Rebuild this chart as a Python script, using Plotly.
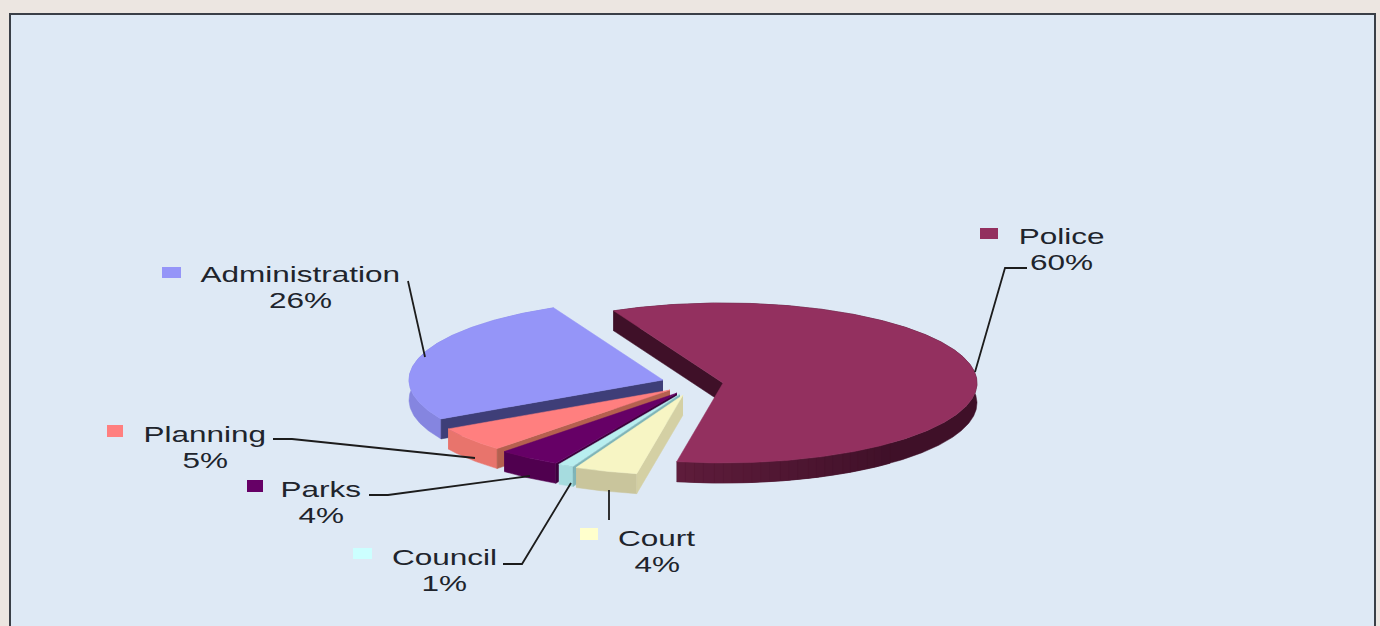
import numpy as np
import plotly.graph_objects as go

# ---- data ----
categories = ["Administration", "Planning", "Parks", "Council", "Court", "Police"]
percent_values = [26, 5, 4, 1, 4, 60]

# ---- styles ----
top_colors = ["#9595F8", "#FF7F7F", "#660066", "#B8EEEF", "#F7F5C4", "#93305F"]
wall_colors = ["#8585E0", "#E8746C", "#50004F", "#A6DCDF", "#C9C59C", "#3F1028"]
face_colors = ["#3E3E78", "#B5604F", "#3D003D", "#7FB5B8", "#D4D0A4", "#3F1028"]
PAGE = "#ECE6E1"
PANEL = "#DEE9F5"
FRAME = "#3A3F47"
INK = "#20242C"
FONT = "Liberation Sans"
FONT_SIZE = 22.5
TEXT_STRETCH = 1.4  # the reference's lettering is horizontally stretched

# ---- layout (pixel-space scale of the figure) ----
W, H = 1380, 626
RX, RY, DEPTH = 254, 80, 20
START_ANGLE = 115.5
centers = {
    "Administration": (663, 380),
    "Planning": (670, 390),
    "Parks": (677, 393),
    "Council": (680, 394),
    "Court": (683, 395),
    "Police": (723, 383),
}
label_pos = {
    "Administration": (300, 274, 300),
    "Planning": (205, 434, 460),
    "Parks": (321, 489, 515),
    "Council": (444, 557, 583),
    "Court": (657, 538, 564),
    "Police": (1061, 236, 262),
}
key_boxes = {
    "Administration": (162, 267, 181, 278),
    "Planning": (107, 425, 123, 437),
    "Parks": (247, 480, 263, 492),
    "Council": (353, 548, 372, 559),
    "Court": (580, 528, 598, 540),
    "Police": (980, 228, 998, 239),
}
leaders = {
    "Administration": "M408,281 L425,357",
    "Planning": "M273,439 L292,439 L475,458",
    "Parks": "M369,495 L388,495 L530,476",
    "Council": "M503,564 L522,564 L571,483",
    "Court": "M609,490 L609,520",
    "Police": "M1027,268 L1005,268 L975,372",
}


def poly(fig, xs, ys, color, name):
    fig.add_trace(go.Scatter(
        x=list(xs), y=list(ys), mode="lines", fill="toself", fillcolor=color,
        line=dict(width=0.5, color=color), hoverinfo="skip", showlegend=False, name=name,
    ))


def blend(a, b, t):
    ca = [int(a[i:i + 2], 16) for i in (1, 3, 5)]
    cb = [int(b[i:i + 2], 16) for i in (1, 3, 5)]
    return "#" + "".join(f"{round(p + (q - p) * t):02X}" for p, q in zip(ca, cb))


fig = go.Figure()

total = sum(percent_values)
angle = START_ANGLE
for name, value, top, wall, face in zip(categories, percent_values, top_colors, wall_colors, face_colors):
    sweep = 360 * value / total
    a0, a1 = angle, angle + sweep
    angle = a1
    cx, cy = centers[name]
    theta = np.radians(np.linspace(a0, a1, max(8, int(sweep * 2))))
    ax = cx + RX * np.cos(theta)
    ay = cy - RY * np.sin(theta)

    # outer wall
    poly(fig, np.r_[ax, ax[::-1]], np.r_[ay, ay[::-1] + DEPTH], wall, name + " wall")
    if name == "Police":
        # lighter front-left end of the wall; each strip is overpainted by the next
        shade_steps = 24
        n_shade = int(len(theta) * 0.24)
        idx = np.linspace(0, n_shade, shade_steps + 1).astype(int)
        for k in range(shade_steps - 1, -1, -1):
            i, j = idx[k], idx[k + 1]
            col = blend("#5E1C3B", wall, k / shade_steps)
            poly(fig, np.r_[ax[i:j + 1], ax[i:j + 1][::-1]],
                 np.r_[ay[i:j + 1], ay[i:j + 1][::-1] + DEPTH], col, name + " wall shade")

    # cut face on the far radial edge of the slice
    poly(fig,
         [cx, ax[-1], ax[-1], cx],
         [cy, ay[-1], ay[-1] + DEPTH, cy + DEPTH], face, name + " face")

    # top surface
    poly(fig, np.r_[cx, ax, cx], np.r_[cy, ay, cy], top, name)

shapes = [
    dict(type="rect", xref="x", yref="y", x0=10, y0=14, x1=1375, y1=H + 20,
         fillcolor=PANEL, line=dict(color=FRAME, width=2), layer="below"),
]
annotations = []
for name, value, top in zip(categories, percent_values, top_colors):
    x0, y0, x1, y1 = key_boxes[name]
    key_color = "#CCFFFF" if name == "Council" else ("#FFFFCC" if name == "Court" else top)
    shapes.append(dict(type="rect", xref="x", yref="y", x0=x0, y0=y0, x1=x1, y1=y1,
                       fillcolor=key_color, line=dict(width=0)))
    shapes.append(dict(type="path", xref="x", yref="y", path=leaders[name],
                       line=dict(color="#1C1C1C", width=1.8)))
    lx, ly0, ly1 = label_pos[name]
    for txt, ly in ((name, ly0), (f"{value}%", ly1)):
        annotations.append(dict(x=lx, y=ly, xref="x", yref="y", text=txt, showarrow=False,
                                xanchor="center", yanchor="middle",
                                font=dict(family=FONT, size=FONT_SIZE, color=INK)))

fig.update_layout(
    width=W, height=H,
    margin=dict(l=0, r=0, t=0, b=0),
    paper_bgcolor=PAGE, plot_bgcolor=PAGE,
    showlegend=False,
    xaxis=dict(range=[0, W], visible=False, fixedrange=True),
    yaxis=dict(range=[H, 0], visible=False, fixedrange=True),
    shapes=shapes, annotations=annotations,
)

stretch_js = """
document.body.style.margin='0';
document.body.style.background='%s';
document.querySelectorAll('.annotation-text').forEach(function(t){
  var w = t.getComputedTextLength();
  t.setAttribute('textLength', (w * %s).toFixed(1));
  t.setAttribute('lengthAdjust', 'spacingAndGlyphs');
});
""" % (PAGE, TEXT_STRETCH)

fig.write_html("out.html", config={"displayModeBar": False}, post_script=stretch_js)
